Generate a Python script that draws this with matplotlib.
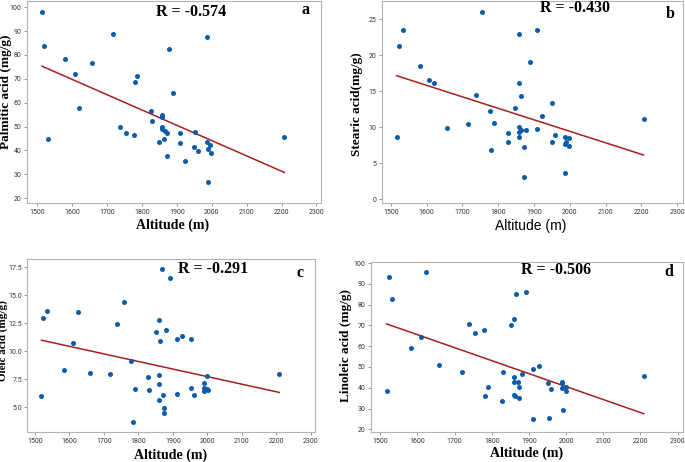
import matplotlib
matplotlib.use("Agg")
import matplotlib.pyplot as plt

# panel a - palmitic acid
alt_a = [1513, 1519, 1529, 1579, 1607, 1618, 1655, 1716, 1737, 1754, 1776, 1780, 1786,
         1825, 1827, 1849, 1857, 1857, 1857, 1857, 1864, 1867, 1871, 1871, 1878, 1889,
         1910, 1910, 1923, 1949, 1953, 1960, 1986, 1987, 1988, 1989, 1996, 1997, 2208]
palmitic = [98.2, 83.7, 44.6, 78.5, 72.2, 57.6, 76.7, 88.6, 49.7, 47.4, 46.4, 68.7, 71.0,
            56.7, 52.5, 43.7, 54.9, 53.9, 50.0, 48.9, 44.6, 48.3, 47.5, 37.5, 82.5, 64.0,
            47.4, 43.0, 35.5, 41.4, 47.9, 39.7, 87.6, 43.7, 40.7, 26.6, 42.3, 38.9, 45.8]
fit_a = ([1513, 2208], [75.3, 30.8])

# panel b - stearic acid
alt_b = [1516, 1523, 1533, 1582, 1607, 1622, 1657, 1716, 1737, 1754, 1776, 1781, 1787,
         1827, 1826, 1848, 1857, 1858, 1858, 1858, 1859, 1864, 1865, 1871, 1871, 1878,
         1889, 1908, 1908, 1922, 1949, 1951, 1958, 1987, 1987, 1987, 1990, 1997, 1997, 2206]
stearic = [8.6, 21.2, 23.5, 18.5, 16.6, 16.2, 9.9, 10.4, 14.5, 26.0, 12.3, 6.9, 10.6,
           9.2, 8.0, 12.7, 16.1, 10.1, 9.4, 8.7, 22.9, 14.3, 9.6, 7.3, 3.1, 9.6,
           19.1, 23.5, 9.7, 11.5, 13.4, 8.0, 8.9, 8.6, 7.7, 3.7, 8.0, 8.5, 7.4, 11.1]
fit_b = ([1516, 2206], [17.15, 6.15])

# panel c - oleic acid
alt_c = [1519, 1524, 1535, 1585, 1609, 1624, 1659, 1718, 1739, 1757, 1778, 1784, 1789,
         1829, 1830, 1851, 1860, 1859, 1859, 1860, 1862, 1867, 1870, 1874, 1874, 1881,
         1891, 1912, 1912, 1925, 1952, 1952, 1962, 1989, 1990, 1991, 1998, 2001, 2000, 2208]
oleic = [6.03, 12.92, 13.6, 8.27, 10.77, 13.51, 8.07, 7.98, 12.41, 14.4, 9.08, 3.63, 6.61,
         7.68, 6.55, 11.7, 12.8, 7.86, 7.05, 5.66, 10.95, 17.35, 6.04, 4.94, 4.44, 11.85,
         16.52, 11.13, 6.19, 11.31, 11.13, 6.67, 6.1, 7.11, 6.73, 6.43, 6.58, 6.55, 7.8, 7.92]
fit_c = ([1519, 2208], [10.98, 6.31])

# panel d - linoleic acid
alt_d = [1517, 1524, 1532, 1582, 1610, 1623, 1658, 1719, 1739, 1756, 1780, 1782, 1790,
         1827, 1831, 1851, 1859, 1859, 1859, 1860, 1862, 1866, 1870, 1874, 1874, 1880,
         1892, 1911, 1911, 1926, 1951, 1955, 1960, 1988, 1988, 1989, 1991, 1999, 1999, 2209]
linoleic = [38.2, 93.4, 82.6, 58.9, 64.3, 95.8, 50.9, 47.4, 70.9, 66.1, 67.7, 36.2, 40.3,
            33.4, 47.5, 70.1, 73.3, 45.0, 42.9, 36.6, 35.8, 85.0, 42.6, 40.3, 35.0, 46.4,
            85.9, 25.1, 49.0, 50.6, 42.2, 25.3, 39.5, 42.9, 42.1, 39.8, 29.3, 40.3, 38.2, 45.8]
fit_d = ([1517, 2209], [70.7, 27.5])

x_ticks = [1500, 1600, 1700, 1800, 1900, 2000, 2100, 2200, 2300]

W, H = 685, 462
fig = plt.figure(figsize=(W / 100, H / 100), dpi=100)

def box(l, t, r, b):
    return [l / W, 1 - b / H, (r - l) / W, (b - t) / H]

tick_font = ['Roboto', 'DejaVu Sans']
serif = ['Liberation Serif', 'DejaVu Serif']
dot_col = '#0b5cad'
line_col = '#a81e1e'

panels = [
    dict(rect=box(27, 1, 321, 203), x=alt_a, y=palmitic, fit=fit_a,
         xlim=(1470, 2313), ylim=(18.0, 102.6), yticks=[20, 30, 40, 50, 60, 70, 80, 90, 100],
         fmt='{:.0f}', r='R = -0.574', rpos=(191, 12), letter='a', lpos=(306, 10),
         ylabel='Palmitic acid (mg/g)', ylpos=(6, 92), ylsize=9.5, ypad=1.5,
         xlpos=(173, 225), xl_serif=True),
    dict(rect=box(382, 1, 683, 203), x=alt_b, y=stearic, fit=fit_b,
         xlim=(1475.5, 2316), ylim=(-0.5, 27.5), yticks=[0, 5, 10, 15, 20, 25],
         fmt='{:.0f}', r='R = -0.430', rpos=(575, 8), letter='b', lpos=(670, 14),
         ylabel='Stearic acid(mg/g)', ylpos=(357, 104), ylsize=9.5, ypad=1.5,
         xlpos=(531, 226), xl_serif=False),
    dict(rect=box(27, 259, 315, 432), x=alt_c, y=oleic, fit=fit_c,
         xlim=(1477, 2311.6), ylim=(2.77, 18.24), yticks=[5.0, 7.5, 10.0, 12.5, 15.0, 17.5],
         fmt='{:.1f}', r='R = -0.291', rpos=(213, 269), letter='c', lpos=(300, 273),
         ylabel='Oleic acid (mg/g)', ylpos=(3.5, 341), ylsize=8, ypad=1,
         xlpos=(171, 455.5), xl_serif=True),
    dict(rect=box(371, 262, 683, 432), x=alt_d, y=linoleic, fit=fit_d,
         xlim=(1475, 2314.5), ylim=(18.7, 100.5), yticks=[20, 30, 40, 50, 60, 70, 80, 90, 100],
         fmt='{:.0f}', r='R = -0.506', rpos=(556, 270), letter='d', lpos=(669, 272),
         ylabel='Linoleic acid (mg/g)', ylpos=(346, 345), ylsize=9.5, ypad=1.5,
         xlpos=(527, 453), xl_serif=True),
]

for p in panels:
    ax = fig.add_axes(p['rect'])
    ax.scatter(p['x'], p['y'], s=13, color=dot_col, zorder=3, linewidths=0)
    ax.plot(p['fit'][0], p['fit'][1], color=line_col, lw=1.1, zorder=2)
    ax.set_xlim(*p['xlim'])
    ax.set_ylim(*p['ylim'])
    ax.set_xticks(x_ticks)
    ax.set_yticks(p['yticks'])
    ax.set_yticklabels([p['fmt'].format(v) for v in p['yticks']])
    for s in ax.spines.values():
        s.set_color('#b4b4b4')
        s.set_linewidth(0.8)
    ax.tick_params(direction='out', length=2.5, width=0.6, color='#888888',
                   labelsize=5, labelcolor='#333333', pad=2)
    ax.tick_params(axis='y', pad=p['ypad'])
    for lab in ax.get_xticklabels() + ax.get_yticklabels():
        lab.set_family(tick_font)

    fig.text(p['rpos'][0] / W, 1 - p['rpos'][1] / H, p['r'], ha='center', va='center',
             family=serif, fontweight='bold', fontsize=11.5)
    fig.text(p['lpos'][0] / W, 1 - p['lpos'][1] / H, p['letter'], ha='center', va='center',
             family=serif, fontweight='bold', fontsize=11.5)
    fig.text(p['ylpos'][0] / W, 1 - p['ylpos'][1] / H, p['ylabel'], ha='center', va='center',
             rotation=90, family=serif, fontweight='bold', fontsize=p['ylsize'])
    if p['xl_serif']:
        fig.text(p['xlpos'][0] / W, 1 - p['xlpos'][1] / H, 'Altitude (m)', ha='center',
                 va='center', family=serif, fontweight='bold', fontsize=10)
    else:
        fig.text(p['xlpos'][0] / W, 1 - p['xlpos'][1] / H, 'Altitude (m)', ha='center',
                 va='center', family=['Liberation Sans', 'DejaVu Sans'], fontsize=10)

fig.savefig('out.png', dpi=100)
